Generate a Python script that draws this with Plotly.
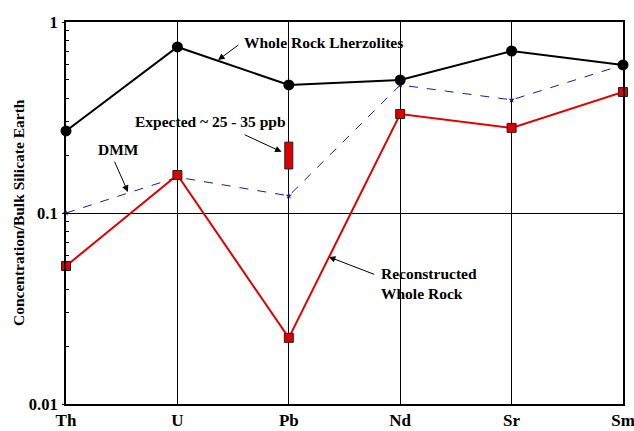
import math
import plotly.graph_objects as go

elements = ["Th", "U", "Pb", "Nd", "Sr", "Sm"]
whole_rock = [0.269, 0.74, 0.468, 0.497, 0.705, 0.596]
dmm = [0.100, 0.154, 0.123, 0.468, 0.391, 0.596]
reconstructed = [0.0528, 0.158, 0.0222, 0.330, 0.279, 0.430]
expected_pb = [0.170, 0.235]  # range for Pb

xs = list(range(len(elements)))
FONT = "Liberation Serif"

fig = go.Figure()

fig.add_trace(go.Scatter(
    x=xs, y=dmm, mode="lines+markers",
    line=dict(color="#1a1a9a", width=1, dash="dash"),
    marker=dict(symbol="star", size=5, color="#1a1a9a"),
    cliponaxis=False, showlegend=False))

fig.add_trace(go.Scatter(
    x=xs, y=whole_rock, mode="lines+markers",
    line=dict(color="black", width=2),
    marker=dict(symbol="circle", size=11, color="black"),
    cliponaxis=False, showlegend=False))

fig.add_trace(go.Scatter(
    x=xs, y=reconstructed, mode="lines+markers",
    line=dict(color="#e00000", width=2),
    marker=dict(symbol="square", size=9, color="#dd0000",
                line=dict(color="#222222", width=1)),
    cliponaxis=False, showlegend=False))

# Expected Pb range box
pb = elements.index("Pb")
hw = 0.036
fig.add_trace(go.Scatter(
    x=[pb - hw, pb + hw, pb + hw, pb - hw, pb - hw],
    y=[expected_pb[0], expected_pb[0], expected_pb[1], expected_pb[1], expected_pb[0]],
    mode="lines", fill="toself", fillcolor="#dd0000",
    line=dict(color="#222222", width=1), showlegend=False))

def arrow(xt, yt, xa, ya):
    fig.add_annotation(
        x=xa, y=math.log10(ya), xref="x", yref="y",
        ax=xt, ay=math.log10(yt), axref="x", ayref="y",
        text="", showarrow=True, arrowhead=2, arrowsize=1.3, arrowwidth=1,
        arrowcolor="black")

def label(text, x, y, xanchor="left"):
    fig.add_annotation(x=x, y=math.log10(y), xref="x", yref="y", text=text,
                       showarrow=False, xanchor=xanchor, yanchor="middle", align="left",
                       font=dict(family=FONT, size=15.5, color="black"))

label("<b>Whole Rock Lherzolites</b>", 1.58, 0.785)
arrow(1.56, 0.767, 1.365, 0.632)

label("<b>DMM</b>", 0.47, 0.216, xanchor="center")
arrow(0.43, 0.189, 0.556, 0.129)

label("<b>Expected ~ 25 - 35 ppb</b>", 1.293, 0.30, xanchor="center")
arrow(1.59, 0.259, 1.935, 0.209)

label("<b>Reconstructed<br>Whole Rock</b>", 2.81, 0.043)
arrow(2.78, 0.0474, 2.36, 0.0589)

# y-axis title
fig.add_annotation(x=(18 - 66) / (634 - 66 - 11), y=0.5, xref="paper", yref="paper",
                   xanchor="center", yanchor="middle",
                   text="<b>Concentration/Bulk Silicate Earth</b>", textangle=-90, showarrow=False,
                   font=dict(family=FONT, size=15.5, color="black"))

fig.update_layout(
    width=634, height=431,
    margin=dict(l=66, r=11, t=22, b=27),
    paper_bgcolor="white", plot_bgcolor="white",
    font=dict(family=FONT, color="black"),
)
fig.update_xaxes(
    range=[0, 5], tickmode="array", tickvals=xs, ticktext=[f"<b>{e}</b>" for e in elements],
    tickfont=dict(family=FONT, size=17, color="black"),
    showgrid=True, gridcolor="black", gridwidth=1,
    showline=True, linecolor="black", linewidth=2, mirror=True,
    ticks="", zeroline=False, automargin=False, ticklabelstandoff=0,
    ticklabeloverflow="allow",
)
fig.update_yaxes(
    type="log", range=[-2, 0],
    tickmode="array", tickvals=[0.01, 0.1, 1], ticktext=["<b>0.01</b>", "<b>0.1</b>", "<b>1</b>"],
    tickfont=dict(family=FONT, size=16.5, color="black"),
    ticks="outside", ticklen=2, tickcolor="black",
    minor=dict(ticks="inside", ticklen=3, tickcolor="black",
               tickvals=[a * 10 ** e for e in (-2, -1) for a in range(2, 10)], showgrid=False),
    showgrid=True, gridcolor="black", gridwidth=1,
    showline=True, linecolor="black", linewidth=2, mirror=True,
    zeroline=False, automargin=False, ticklabelstandoff=1,
    ticklabeloverflow="allow",
)

fig.write_html("out.html")
